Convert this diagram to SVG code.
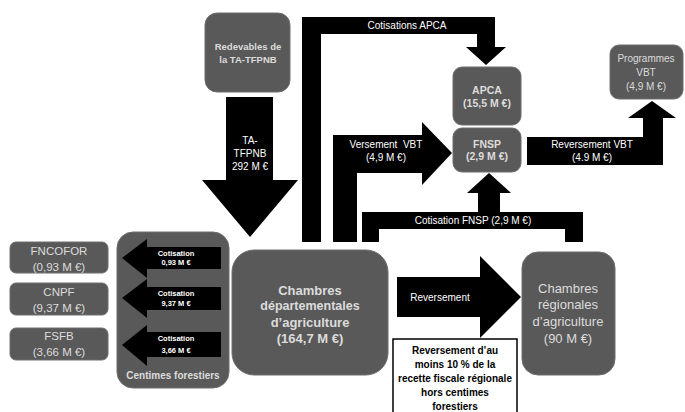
<svg xmlns="http://www.w3.org/2000/svg" width="685" height="412" viewBox="0 0 685 412">
<style>
.box{fill:#595959;stroke:#6e6e6e;stroke-width:1}
.t{font-family:"Liberation Sans",Arial,sans-serif;text-anchor:middle;fill:#dcdcdc}
.b{font-weight:bold}
.w{fill:#ffffff}
.k{fill:#000000}
.arr{fill:#000000}
</style>
<rect width="685" height="412" fill="#ffffff"/>
<g id="connectors">
  <polygon class="arr" points="226,97 273,97 273,180 298,180 250,237 202,180 226,180"/>
  <polygon class="arr" points="302,242 302,17 495,17 495,47 506,47 486,65 466,47 477,47 477,34 321,34 321,242"/>
  <polygon class="arr" points="333,242 333,135 422,135 422,122 452,153 422,185 422,173 357,173 357,242"/>
  <polygon class="arr" points="362,242 362,212 478,212 478,193 467,193 489,173 511,193 500,193 500,212 583,212 583,242 565,242 565,229 379,229 379,242"/>
  <polygon class="arr" points="527,137 643,137 643,118 628,118 652,101 676,118 663,118 663,165 527,165"/>
  <polygon class="arr" points="397,277 480,277 480,256 521,297 480,338 480,317 397,317"/>
  <text class="t w" font-size="10" x="250" y="143.5">TA-</text>
  <text class="t w" font-size="10" x="250" y="156.5">TFPNB</text>
  <text class="t w" font-size="10" x="250" y="169.5">292 M €</text>
  <text class="t w" font-size="10" x="407" y="29">Cotisations APCA</text>
  <text class="t w" font-size="10" x="386" y="148" xml:space="preserve">Versement  VBT</text>
  <text class="t w" font-size="10" x="386" y="161">(4,9 M €)</text>
  <text class="t w" font-size="10" x="473" y="224">Cotisation FNSP (2,9 M €)</text>
  <text class="t w" font-size="10" x="592" y="148">Reversement VBT</text>
  <text class="t w" font-size="10" x="592" y="161">(4.9 M €)</text>
  <text class="t w" font-size="10" x="440" y="301">Reversement</text>
</g>
<g id="redevables">
  <rect class="box" x="205" y="13" width="85" height="79" rx="12"/>
  <text class="t b" font-size="9.5" x="248" y="50">Redevables de</text>
  <text class="t b" font-size="9.5" x="248" y="63">la TA-TFPNB</text>
</g>
<g id="apca">
  <rect class="box" x="453" y="67" width="68" height="58" rx="9"/>
  <text class="t b" font-size="10.5" x="487" y="94">APCA</text>
  <text class="t b" font-size="10.5" x="487" y="107">(15,5 M €)</text>
</g>
<g id="fnsp">
  <rect class="box" x="453" y="128" width="68" height="44" rx="9"/>
  <text class="t b" font-size="10.5" x="487" y="147.5">FNSP</text>
  <text class="t b" font-size="10.5" x="487" y="160">(2,9 M €)</text>
</g>
<g id="programmes">
  <rect class="box" x="610" y="45" width="73" height="54" rx="9"/>
  <text class="t" font-size="10" x="646" y="61.5">Programmes</text>
  <text class="t" font-size="10" x="646" y="75.5">VBT</text>
  <text class="t" font-size="10" x="646" y="89.5">(4,9 M €)</text>
</g>
<g id="fncofor">
  <rect class="box" x="10" y="242" width="98" height="31" rx="6"/>
  <text class="t" font-size="11.5" x="59" y="255">FNCOFOR</text>
  <text class="t" font-size="11.5" x="59" y="271">(0,93 M €)</text>
</g>
<g id="cnpf">
  <rect class="box" x="10" y="283" width="98" height="32" rx="6"/>
  <text class="t" font-size="11.5" x="59" y="296">CNPF</text>
  <text class="t" font-size="11.5" x="59" y="312">(9,37 M €)</text>
</g>
<g id="fsfb">
  <rect class="box" x="10" y="328" width="98" height="32" rx="6"/>
  <text class="t" font-size="11.5" x="59" y="340">FSFB</text>
  <text class="t" font-size="11.5" x="59" y="356">(3,66 M €)</text>
</g>
<g id="centimes">
  <rect class="box" x="117" y="232" width="112" height="156" rx="16"/>
  <polygon class="arr" points="221,247 147,247 147,239 122,258 147,278 147,269 221,269"/>
  <polygon class="arr" points="221,287 147,287 147,279 122,298 147,318 147,310 221,310"/>
  <polygon class="arr" points="221,332 147,332 147,325 122,345 147,366 147,357 221,357"/>
  <text class="t w b" font-size="7.5" x="176" y="256">Cotisation</text>
  <text class="t w b" font-size="7.5" x="176" y="265">0,93 M €</text>
  <text class="t w b" font-size="7.5" x="176" y="296">Cotisation</text>
  <text class="t w b" font-size="7.5" x="176" y="306">9,37 M €</text>
  <text class="t w b" font-size="7.5" x="176" y="341">Cotisation</text>
  <text class="t w b" font-size="7.5" x="176" y="353">3,66 M €</text>
  <text class="t b" font-size="10" x="173" y="379">Centimes forestiers</text>
</g>
<g id="chambres-dep">
  <rect class="box" x="232" y="250" width="156" height="125" rx="22"/>
  <text class="t b" font-size="13" x="310" y="294.5">Chambres</text>
  <text class="t b" font-size="12.5" x="310" y="310">départementales</text>
  <text class="t b" font-size="13" x="310" y="326.5">d’agriculture</text>
  <text class="t b" font-size="13" x="310" y="342.5">(164,7 M €)</text>
</g>
<g id="chambres-reg">
  <rect class="box" x="522" y="252" width="93" height="123" rx="16"/>
  <text class="t" font-size="13" x="568" y="292.5">Chambres</text>
  <text class="t" font-size="13" x="568" y="309">régionales</text>
  <text class="t" font-size="13" x="568" y="326">d’agriculture</text>
  <text class="t" font-size="13" x="568" y="342.5">(90 M €)</text>
</g>
<g id="note">
  <rect x="393" y="339" width="124" height="80" fill="#ffffff" stroke="#000000" stroke-width="1.5"/>
  <text class="t k b" font-size="10" x="455" y="354">Reversement d’au</text>
  <text class="t k b" font-size="10" x="455" y="368">moins 10 % de la</text>
  <text class="t k b" font-size="10" x="455" y="382">recette fiscale régionale</text>
  <text class="t k b" font-size="10" x="455" y="396">hors centimes</text>
  <text class="t k b" font-size="10" x="455" y="410">forestiers</text>
</g>
</svg>
